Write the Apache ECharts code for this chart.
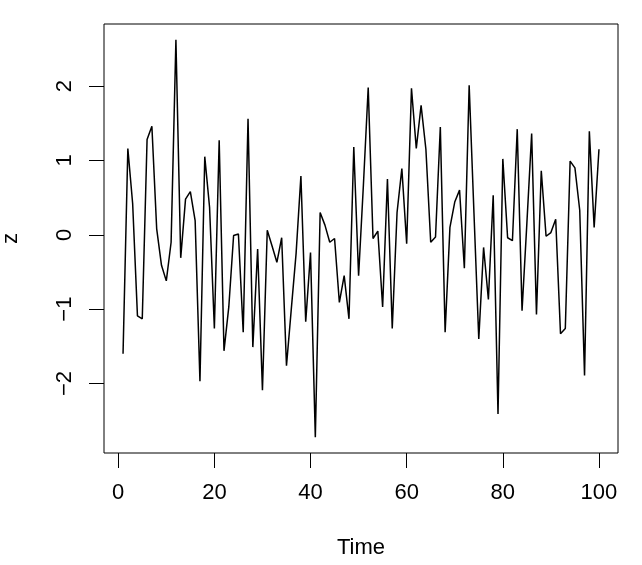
<!DOCTYPE html>
<html>
<head>
<meta charset="utf-8">
<script src="https://cdn.jsdelivr.net/npm/echarts@6/dist/echarts.min.js"></script>
<style>
html,body{margin:0;padding:0;background:#fff;}
#chart{width:642px;height:565px;}
</style>
</head>
<body>
<div id="chart"></div>
<script>
const time = [1,2,3,4,5,6,7,8,9,10,11,12,13,14,15,16,17,18,19,20,
  21,22,23,24,25,26,27,28,29,30,31,32,33,34,35,36,37,38,39,40,
  41,42,43,44,45,46,47,48,49,50,51,52,53,54,55,56,57,58,59,60,
  61,62,63,64,65,66,67,68,69,70,71,72,73,74,75,76,77,78,79,80,
  81,82,83,84,85,86,87,88,89,90,91,92,93,94,95,96,97,98,99,100];
const z = [-1.60,1.16,0.42,-1.09,-1.13,1.28,1.46,0.08,-0.41,-0.62,
  -0.10,2.62,-0.31,0.48,0.58,0.19,-1.97,1.05,0.37,-1.26,
  1.27,-1.56,-0.97,-0.01,0.01,-1.31,1.56,-1.51,-0.19,-2.09,
  0.06,-0.15,-0.37,-0.04,-1.76,-1.00,-0.25,0.79,-1.17,-0.24,
  -2.72,0.30,0.13,-0.10,-0.05,-0.91,-0.55,-1.13,1.18,-0.55,
  0.67,1.98,-0.05,0.05,-0.97,0.75,-1.26,0.30,0.89,-0.12,
  1.97,1.16,1.74,1.15,-0.10,-0.03,1.45,-1.31,0.10,0.44,
  0.60,-0.45,2.01,0.29,-1.40,-0.17,-0.87,0.53,-2.41,1.02,
  -0.04,-0.08,1.42,-1.02,0.15,1.36,-1.07,0.86,-0.02,0.03,
  0.21,-1.33,-1.26,0.99,0.90,0.33,-1.89,1.39,0.10,1.15];
const xTicks = [0,20,40,60,80,100];
const yTicks = [-2,-1,0,1,2];

const chart = echarts.init(document.getElementById('chart'), null, {renderer:'canvas'});
const font = 'Liberation Sans, Arial, sans-serif';
const xmin = 1 - 0.04*99, xmax = 100 + 0.04*99;
const zmin = Math.min(...z), zmax = Math.max(...z);
const ymin = zmin - 0.04*(zmax-zmin), ymax = zmax + 0.04*(zmax-zmin);

chart.setOption({
  animation:false,
  backgroundColor:'#ffffff',
  grid:{left:104,right:24,top:24,bottom:112,show:true,borderColor:'#000',borderWidth:1,
        backgroundColor:'transparent',containLabel:false,outerBoundsMode:'none'},
  xAxis:{
    type:'value',min:xmin,max:xmax,
    name:'Time',nameLocation:'middle',nameGap:84,
    nameTextStyle:{fontFamily:font,fontSize:22,color:'#000'},
    axisLine:{show:false,onZero:false},
    splitLine:{show:false},
    axisTick:{show:true,length:15,customValues:xTicks,lineStyle:{color:'#000',width:1}},
    axisLabel:{customValues:xTicks,margin:29,fontFamily:font,fontSize:22,color:'#000'}
  },
  yAxis:{
    type:'value',min:ymin,max:ymax,
    name:'z',nameLocation:'middle',nameGap:82,nameRotate:90,
    nameTextStyle:{fontFamily:font,fontSize:22,color:'#000'},
    axisLine:{show:false,onZero:false},
    splitLine:{show:false},
    axisTick:{show:true,length:15,customValues:yTicks,lineStyle:{color:'#000',width:1}},
    axisLabel:{customValues:yTicks,rotate:90,margin:28,fontFamily:font,fontSize:22,color:'#000',
      formatter:v=>String(v).replace('-','\u2212')}
  },
  series:[{
    type:'line',
    data:time.map((t,i)=>[t,z[i]]),
    symbol:'none',
    lineStyle:{color:'#000',width:1.5},
    z:3
  }]
});
</script>
</body>
</html>
